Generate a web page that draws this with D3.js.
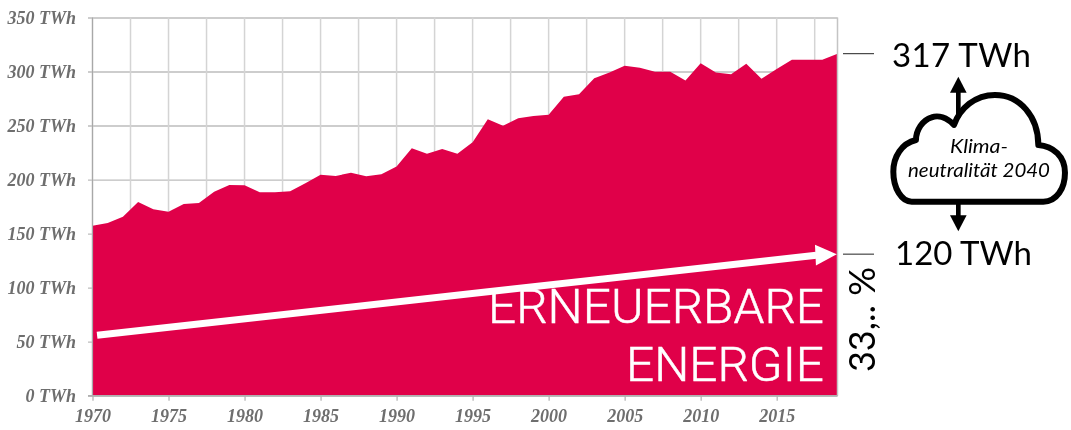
<!DOCTYPE html>
<html>
<head>
<meta charset="utf-8">
<script src="https://cdnjs.cloudflare.com/ajax/libs/d3/7.8.5/d3.min.js"></script>
<style>
html, body { margin: 0; padding: 0; background: #fff; }
svg { display: block; }
.tick-label { font-family: "Liberation Serif", serif; font-weight: bold; font-style: italic; font-size: 18px; fill: #6e6e6e; }
.note { font-family: Lato, sans-serif; fill: #000; }
.big { font-family: Roboto, sans-serif; font-weight: 300; font-size: 49px; fill: #fff; stroke: #fff; stroke-width: 0.5; }
</style>
</head>
<body>
<svg width="1071" height="430"></svg>
<script>
"use strict"

var years = [1970, 1971, 1972, 1973, 1974, 1975, 1976, 1977, 1978, 1979,
    1980, 1981, 1982, 1983, 1984, 1985, 1986, 1987, 1988, 1989,
    1990, 1991, 1992, 1993, 1994, 1995, 1996, 1997, 1998, 1999,
    2000, 2001, 2002, 2003, 2004, 2005, 2006, 2007, 2008, 2009,
    2010, 2011, 2012, 2013, 2014, 2015, 2016, 2017, 2018, 2019];
var twh = [157.3, 159.8, 165.6, 179.2, 172.5, 170.3, 177.4, 178.3, 188.8, 195,
    194.7, 188.2, 188.2, 189.1, 196.5, 204.5, 203.3, 206.4, 203, 204.9,
    212, 228.9, 224, 228.3, 224, 234.5, 255.8, 249.9, 256.7, 258.8,
    260, 276.7, 278.9, 293.7, 299, 305.4, 303.5, 299.9, 299.9, 291.8,
    307.6, 299, 297.4, 307.3, 293.4, 302.3, 311, 311, 311, 316.5];
var y_ticks = [0, 50, 100, 150, 200, 250, 300, 350];
var x_ticks = [1970, 1975, 1980, 1985, 1990, 1995, 2000, 2005, 2010, 2015];
var x_grid = d3.range(1970, 2019, 2.5);
var trend_years = [1970.3, 2017.6];
var trend_twh = [56, 130];
var marker_twh = [316.5, 131];

var x = d3.scaleLinear().domain([1970, 2019]).range([92.5, 837.5]);
var y = d3.scaleLinear().domain([0, 350]).range([395.7, 17.5]);

var svg = d3.select("svg");

/* Source picture is a soft screenshot */
svg.append("defs").append("filter")
    .attr("id", "soft")
    .append("feGaussianBlur")
    .attr("stdDeviation", 0.45);

var chart = svg.append("g").attr("filter", "url(#soft)");

/* Grid */
var y_axis = d3.axisLeft(y).tickValues(y_ticks)
    .tickFormat(function(d) { return d + " TWh"; });
var g_y = chart.append("g").attr("transform", "translate(88,0)").call(y_axis);
g_y.select(".domain").remove();
g_y.selectAll("line").attr("x1", 0).attr("x2", x.range()[1] - 88)
    .attr("stroke", "#bdbdbd").attr("stroke-width", 1.4);
g_y.selectAll("text").attr("class", "tick-label").attr("x", -12).attr("dy", "0.32em");

chart.append("g").selectAll("line").data(x_grid).join("line")
    .attr("x1", x).attr("x2", x)
    .attr("y1", y(350)).attr("y2", y(0))
    .attr("stroke", "#d4d4d4").attr("stroke-width", 1.5);

/* Area */
var area = d3.area()
    .x(function(d, i) { return x(years[i]); })
    .y0(y(0))
    .y1(function(d) { return y(d); });
chart.append("path").datum(twh).attr("d", area).attr("fill", "#e0004a");

/* Frame lines on the left, right and bottom */
chart.append("line").attr("x1", x(1970)).attr("x2", x(1970)).attr("y1", y(350)).attr("y2", y(0))
    .attr("stroke", "#a8a8a8").attr("stroke-width", 1.2);
chart.append("line").attr("x1", x(2019)).attr("x2", x(2019)).attr("y1", y(350)).attr("y2", y(0))
    .attr("stroke", "#c4c4c4").attr("stroke-width", 1.5);
chart.append("line").attr("x1", 88).attr("x2", x(2019)).attr("y1", y(0)).attr("y2", y(0))
    .attr("stroke", "#b0b0b0").attr("stroke-width", 1.2);

var x_axis = d3.axisBottom(x).tickValues(x_ticks).tickSize(5)
    .tickFormat(d3.format("d"));
var g_x = chart.append("g").attr("transform", "translate(0," + y(0) + ")").call(x_axis);
g_x.select(".domain").remove();
g_x.selectAll("line").attr("stroke", "#b0b0b0").attr("stroke-width", 1.2);
g_x.selectAll("text").attr("class", "tick-label").attr("y", 14).attr("dy", "0.71em").attr("text-anchor", "middle");

/* White trend arrow */
svg.append("line")
    .attr("x1", x(trend_years[0])).attr("y1", y(trend_twh[0]))
    .attr("x2", x(trend_years[1])).attr("y2", y(trend_twh[1]))
    .attr("stroke", "#fff").attr("stroke-width", 7);
var tip = [x(2018.95), y(marker_twh[1])],
    back = [x(2017.55), y(130.1)],
    angle = Math.atan2(tip[1] - back[1], tip[0] - back[0]);
svg.append("path")
    .attr("d", d3.line()([
        tip,
        [back[0] - 10.5 * Math.sin(angle), back[1] + 10.5 * Math.cos(angle)],
        [back[0] + 10.5 * Math.sin(angle), back[1] - 10.5 * Math.cos(angle)]
    ]) + "Z")
    .attr("fill", "#fff");

svg.append("text").attr("class", "big").attr("x", 488).attr("y", 323)
    .attr("textLength", 336).attr("lengthAdjust", "spacingAndGlyphs").text("ERNEUERBARE");
svg.append("text").attr("class", "big").attr("x", 626).attr("y", 381)
    .attr("textLength", 198).attr("lengthAdjust", "spacingAndGlyphs").text("ENERGIE");

/* Markers right of the chart */
svg.append("g").selectAll("line").data(marker_twh).join("line")
    .attr("x1", 843).attr("x2", 874)
    .attr("y1", y).attr("y2", y)
    .attr("stroke", "#222").attr("stroke-width", 1);

svg.append("text").attr("class", "note").attr("x", 892).attr("y", 67)
    .attr("font-size", 33).attr("textLength", 139).text("317 TWh");
svg.append("text").attr("class", "note").attr("x", 895).attr("y", 265)
    .attr("font-size", 33).attr("textLength", 137).text("120 TWh");
svg.append("text").attr("class", "note")
    .attr("transform", "translate(875,372) rotate(-90)")
    .attr("font-size", 36).attr("textLength", 105).text("33,.. %");

/* Cloud, drawn in 3x units */
var cloud = svg.append("g").attr("transform", "translate(830,30) scale(0.3333)");
cloud.append("path")
    .attr("d", "M245,515 L640,515 C680,515 705,475 705,428 C705,380 670,348 625,345 " +
        "C625,260 570,195 495,195 C435,195 390,235 372,285 C350,262 325,255 305,262 " +
        "C278,270 258,300 258,330 C215,340 190,380 190,425 C190,475 215,515 245,515 Z")
    .attr("fill", "#fff").attr("stroke", "#000").attr("stroke-width", 18)
    .attr("stroke-linejoin", "round");
cloud.append("path")
    .attr("d", "M385,262 L385,185")
    .attr("stroke", "#000").attr("stroke-width", 14);
cloud.append("path").attr("d", "M385,140 L410,188 L360,188 Z").attr("fill", "#000");
cloud.append("path")
    .attr("d", "M385,522 L385,560")
    .attr("stroke", "#000").attr("stroke-width", 14);
cloud.append("path").attr("d", "M385,604 L410,556 L360,556 Z").attr("fill", "#000");

svg.append("text").attr("class", "note").attr("x", 950).attr("y", 153)
    .attr("font-size", 20).attr("font-style", "italic").attr("textLength", 58)
    .attr("lengthAdjust", "spacingAndGlyphs").text("Klima-");
svg.append("text").attr("class", "note").attr("x", 908).attr("y", 177)
    .attr("font-size", 20).attr("font-style", "italic").attr("textLength", 142)
    .attr("lengthAdjust", "spacingAndGlyphs").text("neutralität 2040");
</script>
</body>
</html>
